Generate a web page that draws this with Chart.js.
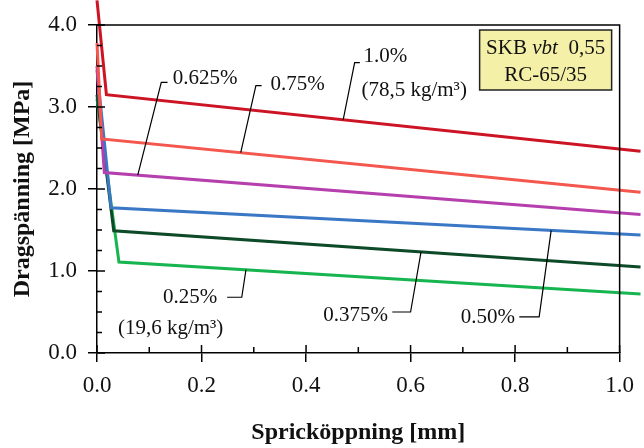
<!DOCTYPE html>
<html>
<head>
<meta charset="utf-8">
<script src="https://cdn.jsdelivr.net/npm/chart.js@4/dist/chart.umd.min.js"></script>
<style>
  body { margin: 0; background: #fff; }
  canvas { display: block; }
</style>
</head>
<body>
<canvas id="chart" width="644" height="448"></canvas>
<script>
// --- DATA ---
const seriesLabels = ['1.0%', '0.75%', '0.625%', '0.50%', '0.375%', '0.25%'];
const seriesColors = ['#cc1424', '#f4574d', '#b63fae', '#3a78c6', '#0c4a28', '#17b54f'];
const startStress = [4.30, 3.78, 3.50, 3.45, 3.15, 3.10];   // at 0 mm
const kneeOpening = [0.018, 0.009, 0.014, 0.027, 0.032, 0.042];
const kneeStress = [3.15, 2.61, 2.20, 1.77, 1.49, 1.11];
const endOpening = 1.04;                                   // lines run past the frame
const endStress = [2.46, 1.96, 1.69, 1.44, 1.05, 0.72];

const xTickValues = [0, 0.2, 0.4, 0.6, 0.8, 1.0];
const yTickValues = [0, 1, 2, 3, 4];
const xMinorValues = [0.1, 0.3, 0.5, 0.7, 0.9];
const yMinorValues = [0.25, 0.5, 0.75, 1.25, 1.5, 1.75, 2.25, 2.5, 2.75, 3.25, 3.5, 3.75];

// labels with leader lines: text, text position, leader corner, tip on series
const labelTexts = ['1.0%', '0.75%', '0.625%', '0.50%', '0.375%', '0.25%'];
const labelPos = [[0.552, 3.61], [0.384, 3.27], [0.207, 3.35], [0.748, 0.43], [0.495, 0.46], [0.178, 0.68]];
const leaderStart = [[0.503, 3.54], [0.315, 3.26], [0.135, 3.30], [0.808, 0.44], [0.565, 0.50], [0.249, 0.68]];
const leaderCorner = [[0.493, 3.54], [0.304, 3.26], [0.123, 3.30], [0.846, 0.44], [0.600, 0.50], [0.277, 0.68]];
const leaderTipX = [0.471, 0.275, 0.078, 0.869, 0.620, 0.285];

const SERIF = '"Liberation Serif", "Times New Roman", serif';

// --- HELPERS ---
function seriesPoints(i) {
    return [
        { x: 0, y: startStress[i] },
        { x: kneeOpening[i], y: kneeStress[i] },
        { x: endOpening, y: endStress[i] }
    ];
}

function stressAt(i, x) {
    const pts = seriesPoints(i);
    for (let k = 0; k < pts.length - 1; k++) {
        const a = pts[k], b = pts[k + 1];
        if (x >= a.x && x <= b.x) {
            return a.y + (b.y - a.y) * (x - a.x) / (b.x - a.x);
        }
    }
    return pts[pts.length - 1].y;
}

// --- PLUGIN: frame, inward ticks, annotations, info box ---
const decorations = {
    id: 'decorations',
    afterDatasetsDraw(chart) {
        const { ctx, chartArea: area } = chart;
        const xs = chart.scales.x, ys = chart.scales.y;
        const px = v => xs.getPixelForValue(v);
        const py = v => ys.getPixelForValue(v);

        ctx.save();
        ctx.strokeStyle = '#000';
        ctx.lineWidth = 1.5;

        // frame (top + right)
        ctx.beginPath();
        ctx.moveTo(area.left, area.top);
        ctx.lineTo(area.right, area.top);
        ctx.lineTo(area.right, area.bottom);
        ctx.stroke();

        // inward ticks
        ctx.beginPath();
        xTickValues.forEach(v => { ctx.moveTo(px(v), area.bottom); ctx.lineTo(px(v), area.bottom - 8); });
        xMinorValues.forEach(v => { ctx.moveTo(px(v), area.bottom); ctx.lineTo(px(v), area.bottom - 6); });
        yTickValues.forEach(v => { ctx.moveTo(area.left, py(v)); ctx.lineTo(area.left + 8, py(v)); });
        yMinorValues.forEach(v => { ctx.moveTo(area.left, py(v)); ctx.lineTo(area.left + 5, py(v)); });
        ctx.stroke();

        // leader lines
        ctx.lineWidth = 1.2;
        labelTexts.forEach((t, i) => {
            const tipY = stressAt(i, leaderTipX[i]);
            ctx.beginPath();
            ctx.moveTo(px(leaderStart[i][0]), py(leaderStart[i][1]));
            ctx.lineTo(px(leaderCorner[i][0]), py(leaderCorner[i][1]));
            ctx.lineTo(px(leaderTipX[i]), py(tipY));
            ctx.stroke();
        });

        // label texts
        ctx.fillStyle = '#111';
        ctx.font = '21px ' + SERIF;
        ctx.textAlign = 'center';
        ctx.textBaseline = 'middle';
        labelTexts.forEach((t, i) => {
            ctx.fillText(t, px(labelPos[i][0]), py(labelPos[i][1]));
        });
        ctx.textAlign = 'left';
        ctx.fillText('(78,5 kg/m³)', px(0.506), py(3.20));
        ctx.fillText('(19,6 kg/m³)', px(0.040), py(0.30));

        // info box
        const bx = area.right - 140, by = area.top + 5, bw = 132, bh = 60;
        ctx.fillStyle = '#f5f0a8';
        ctx.fillRect(bx, by, bw, bh);
        ctx.lineWidth = 1.5;
        ctx.strokeStyle = '#222';
        ctx.strokeRect(bx, by, bw, bh);

        ctx.fillStyle = '#111';
        const parts = [['SKB ', '21px ' + SERIF], ['vbt', 'italic 21px ' + SERIF], ['  0,55', '21px ' + SERIF]];
        let total = 0;
        parts.forEach(p => { ctx.font = p[1]; total += ctx.measureText(p[0]).width; });
        let cx = bx + bw / 2 - total / 2;
        parts.forEach(p => {
            ctx.font = p[1];
            ctx.fillText(p[0], cx, by + 18);
            cx += ctx.measureText(p[0]).width;
        });
        ctx.font = '21px ' + SERIF;
        ctx.textAlign = 'center';
        ctx.fillText('RC-65/35', bx + bw / 2, by + 45);
        ctx.restore();
    }
};

// --- CHART ---
const datasets = seriesLabels.map((label, i) => ({
    label: label,
    data: seriesPoints(i),
    borderColor: seriesColors[i],
    borderWidth: 3,
    pointRadius: 0,
    fill: false,
    tension: 0,
    clip: false
}));

new Chart(document.getElementById('chart'), {
    type: 'line',
    data: { datasets: datasets },
    options: {
        responsive: false,
        animation: false,
        layout: { padding: { top: 25, right: 20, left: 0, bottom: 0 } },
        plugins: {
            legend: { display: false },
            tooltip: { enabled: false }
        },
        scales: {
            x: {
                type: 'linear',
                min: 0,
                max: 1,
                afterBuildTicks: s => { s.ticks = xTickValues.map(v => ({ value: v })); },
                afterFit: s => { s.height = 95; },
                ticks: {
                    color: '#111',
                    font: { family: SERIF, size: 23 },
                    padding: 10,
                    maxRotation: 0,
                    callback: v => v.toFixed(1)
                },
                grid: { drawOnChartArea: false, drawTicks: true, tickLength: 9, color: '#000', lineWidth: 1.5 },
                border: { color: '#000', width: 1.5 },
                title: {
                    display: true,
                    text: 'Spricköppning [mm]',
                    color: '#111',
                    font: { family: SERIF, size: 24, weight: 'bold' },
                    padding: { top: 0, bottom: 1 }
                }
            },
            y: {
                min: 0,
                max: 4,
                afterBuildTicks: s => { s.ticks = yTickValues.map(v => ({ value: v })); },
                afterFit: s => { s.width = 97; },
                ticks: {
                    color: '#111',
                    font: { family: SERIF, size: 23 },
                    padding: 11,
                    callback: v => v.toFixed(1)
                },
                grid: { drawOnChartArea: false, drawTicks: true, tickLength: 9, color: '#000', lineWidth: 1.5 },
                border: { color: '#000', width: 1.5 },
                title: {
                    display: true,
                    text: 'Dragspänning [MPa]',
                    color: '#111',
                    font: { family: SERIF, size: 24, weight: 'bold' },
                    padding: { top: 8, bottom: 0 }
                }
            }
        }
    },
    plugins: [decorations]
});
</script>
</body>
</html>
